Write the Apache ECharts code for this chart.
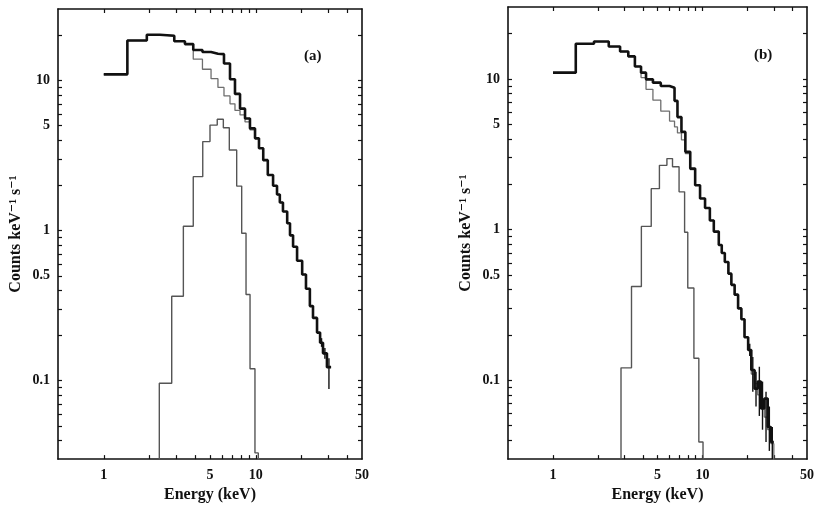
<!DOCTYPE html>
<html>
<head>
<meta charset="utf-8">
<script src="https://cdn.jsdelivr.net/npm/echarts@6/dist/echarts.min.js"></script>
<style>
html,body{margin:0;padding:0;background:#fff;}
#chart{width:817px;height:508px;}
</style>
</head>
<body>
<div id="chart"></div>
<script>
// ---------- data (energies in keV, rates in counts keV^-1 s^-1) ----------
// Panel (a)
const aEdges = [1.0, 1.43, 1.92, 2.34, 2.91, 3.42, 3.88, 4.46, 5.08, 5.64, 6.18, 6.77, 7.30, 7.88,
  8.50, 9.16, 9.89, 10.5, 11.2, 12.0, 13.0, 13.8, 14.4, 15.1, 16.1, 16.8, 17.6, 18.7,
  20.2, 21.4, 22.7, 23.8, 25.3, 26.5, 27.7, 29.4, 31.3];
const aData = [11.0, 18.5, 20.2, 19.9, 18.3, 17.5, 16.0, 15.5, 15.1, 15.0, 13.0, 10.2, 8.15,
  6.5, 5.59, 4.80, 4.12, 3.54, 2.95, 2.35, 1.99, 1.74, 1.54, 1.34, 1.12, 0.93, 0.78,
  0.63, 0.51, 0.41, 0.314, 0.262, 0.209, 0.179, 0.152, 0.123];
const aContinuum = [11.0, 18.5, 20.2, 19.9, 18.3, 17.5, 13.9, 11.9, 10.3, 9.0, 7.9, 7.0, 6.33,
  5.9, 5.3, 4.7, 4.12, 3.54, 2.95, 2.35, 1.99, 1.74, 1.54, 1.34, 1.12, 0.93, 0.78,
  0.63, 0.51, 0.41, 0.314, 0.262, 0.209, 0.179, 0.152, 0.123];
const aLineEdges = [2.32, 2.80, 3.34, 3.88, 4.48, 5.0, 5.58, 6.12, 6.70, 7.49, 8.08, 8.63, 9.17, 9.88, 10.39];
const aLineVals = [0.096, 0.365, 1.07, 2.29, 3.92, 5.05, 5.52, 4.85, 3.45, 1.98, 0.96, 0.375, 0.12, 0.033];
const aErrors = [[27.1, 0.168, 0.192], [28.5, 0.140, 0.165], [30.3, 0.088, 0.141]];

// Panel (b)
const bEdges = [1.0, 1.42, 1.88, 2.36, 2.81, 3.19, 3.53, 3.88, 4.19, 4.66, 5.26, 6.02, 6.50, 6.80,
  7.23, 7.68, 8.28, 8.93, 9.63, 10.4, 11.2, 11.9, 12.85, 13.45, 14.1, 14.9, 15.6, 16.4,
  17.3, 18.2, 19.1, 20.2, 21.2, 22.3, 23.4, 24.6, 25.9, 27.3, 28.7, 30.0];
const bData = [11.0, 17.1, 17.7, 16.4, 15.2, 14.1, 12.1, 11.0, 9.93, 9.44, 8.97, 8.75, 7.15,
  5.58, 4.45, 3.28, 2.54, 1.97, 1.61, 1.39, 1.15, 0.97, 0.79, 0.70, 0.61, 0.51, 0.43,
  0.37, 0.30, 0.254, 0.193, 0.159, 0.117, 0.088, 0.098, 0.065, 0.0756, 0.049, 0.039];
const bContinuum = [11.0, 17.1, 17.7, 16.4, 15.2, 14.1, 12.1, 10.2, 8.53, 7.22, 6.11, 5.25, 4.80,
  4.38, 3.94, 3.19, 2.50, 1.97, 1.61, 1.39, 1.15, 0.97, 0.79, 0.70, 0.61, 0.51, 0.43,
  0.37, 0.30, 0.254, 0.193, 0.159, 0.110, 0.095, 0.080, 0.068, 0.057, 0.047, 0.038];
const bLineEdges = [2.85, 3.35, 3.90, 4.54, 5.15, 5.78, 6.30, 6.97, 7.59, 7.97, 8.76, 9.45, 10.08];
const bLineVals = [0.121, 0.419, 1.05, 1.87, 2.67, 2.96, 2.61, 1.78, 0.96, 0.41, 0.14, 0.039];
const bErrors = [[20.7, 0.145, 0.175], [21.7, 0.084, 0.143], [22.8, 0.067, 0.114], [24.0, 0.058, 0.123],
  [25.2, 0.047, 0.098], [26.6, 0.039, 0.084], [28.0, 0.034, 0.067], [29.3, 0.028, 0.049]];

// axis ticks / labels
const xTickVals = [1, 2, 3, 4, 5, 6, 7, 8, 9, 10, 20, 30, 40];
const xLabelVals = [1, 5, 10, 50];
const yTickVals = [0.04, 0.05, 0.06, 0.07, 0.08, 0.09, 0.1, 0.2, 0.3, 0.4, 0.5, 0.6, 0.7, 0.8, 0.9,
  1, 2, 3, 4, 5, 6, 7, 8, 9, 10, 20];
const yLabelVals = [0.1, 0.5, 1, 5, 10];
const FLOOR = 0.01; // value below the plotted range (drawn down to the axis)

// ---------- helpers ----------
function hist(edges, vals, floorStart, floorEnd) {
  const pts = [];
  if (floorStart) pts.push([edges[0] * 0.9, FLOOR]);
  for (let i = 0; i < vals.length; i++) pts.push([edges[i], vals[i]]);
  pts.push([edges[vals.length], floorEnd ? FLOOR : vals[vals.length - 1]]);
  if (floorEnd) pts.push([edges[vals.length] * 1.1, FLOOR]);
  return pts;
}
const FONT = '"Liberation Serif", "DejaVu Serif", serif';
const INK = '#111';

function xAxes(grid) {
  const base = {
    gridIndex: grid, type: 'log', logBase: 10, min: 0.5, max: 50,
    axisLine: {show: true, lineStyle: {color: INK, width: 1.6}},
    splitLine: {show: false},
    axisTick: {show: true, inside: true, length: 4, customValues: xTickVals, lineStyle: {color: INK, width: 1.2}},
  };
  return [
    Object.assign({}, base, {
      position: 'bottom',
      axisLabel: {customValues: xLabelVals, color: INK, fontFamily: FONT, fontSize: 14, fontWeight: 'bold', margin: 9,
        formatter: v => String(Number(v.toPrecision(3)))},
      name: 'Energy (keV)', nameLocation: 'middle', nameGap: 25,
      nameTextStyle: {color: INK, fontFamily: FONT, fontSize: 16, fontWeight: 'bold'}
    }),
    Object.assign({}, base, {position: 'top', axisLabel: {show: false}})
  ];
}
function yAxes(grid) {
  const base = {
    gridIndex: grid, type: 'log', logBase: 10, min: 0.03, max: 30,
    axisLine: {show: true, lineStyle: {color: INK, width: 1.6}},
    splitLine: {show: false},
    axisTick: {show: true, inside: true, length: 4, customValues: yTickVals, lineStyle: {color: INK, width: 1.2}},
  };
  return [
    Object.assign({}, base, {
      position: 'left',
      axisLabel: {customValues: yLabelVals, color: INK, fontFamily: FONT, fontSize: 14, fontWeight: 'bold', margin: 8,
        formatter: v => String(Number(v.toPrecision(3)))},
      name: 'Counts keV\u207B\u00B9 s\u207B\u00B9', nameLocation: 'middle', nameRotate: 90, nameGap: 34,
      nameTextStyle: {color: INK, fontFamily: FONT, fontSize: 16, fontWeight: 'bold'}
    }),
    Object.assign({}, base, {position: 'right', axisLabel: {show: false}})
  ];
}
function errSeries(xi, yi, data) {
  return {
    type: 'custom', xAxisIndex: xi, yAxisIndex: yi, data: data, clip: true, z: 4,
    encode: {x: 0, y: [1, 2]},
    renderItem: function (params, api) {
      const p1 = api.coord([api.value(0), api.value(1)]);
      const p2 = api.coord([api.value(0), api.value(2)]);
      return {type: 'line', shape: {x1: p1[0], y1: p1[1], x2: p2[0], y2: p2[1]},
        style: {stroke: INK, lineWidth: 1.4}};
    }
  };
}
function stepSeries(xi, yi, data, color, width, z) {
  return {type: 'line', step: 'end', xAxisIndex: xi, yAxisIndex: yi, data: data,
    showSymbol: false, symbol: 'none', clip: true, z: z,
    lineStyle: {color: color, width: width}};
}

const option = {
  backgroundColor: '#fff',
  animation: false,
  grid: [
    {left: 58, top: 9, width: 304, height: 457},
    {left: 508, top: 7, width: 304, height: 456}
  ],
  xAxis: xAxes(0).concat(xAxes(1)),
  yAxis: yAxes(0).concat(yAxes(1)),
  graphic: [
    {type: 'text', left: 304, top: 49, style: {text: '(a)', font: 'bold 15px ' + FONT, fill: INK}},
    {type: 'text', left: 754, top: 48, style: {text: '(b)', font: 'bold 15px ' + FONT, fill: INK}}
  ],
  series: [
    stepSeries(0, 0, hist(aEdges, aContinuum, false, false), '#6e6e6e', 1.3, 2),
    stepSeries(0, 0, hist(aLineEdges, aLineVals, true, true), '#555', 1.4, 2),
    stepSeries(0, 0, hist(aEdges, aData, false, false), INK, 2.6, 3),
    errSeries(0, 0, aErrors),
    stepSeries(2, 2, hist(bEdges, bContinuum, false, true), '#6e6e6e', 1.3, 2),
    stepSeries(2, 2, hist(bLineEdges, bLineVals, true, true), '#555', 1.4, 2),
    stepSeries(2, 2, hist(bEdges, bData, false, false), INK, 2.6, 3),
    errSeries(2, 2, bErrors)
  ]
};
const chart = echarts.init(document.getElementById('chart'), null, {renderer: 'canvas'});
chart.setOption(option);
</script>
</body>
</html>
